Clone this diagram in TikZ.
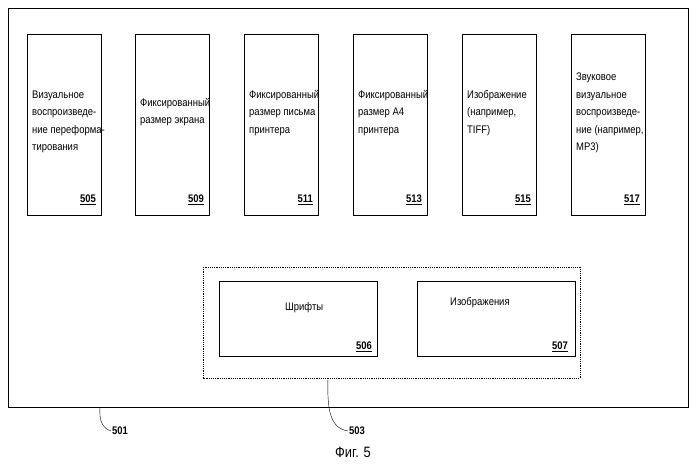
\documentclass[tikz,border=0pt]{standalone}
\usepackage{fontspec}
\setmainfont{Liberation Sans}[FakeStretch=0.86]
\begin{document}
\begin{tikzpicture}[x=1pt,y=-1pt,
  box/.style={draw,line width=0.9pt},
  txt/.style={anchor=west,align=left,font=\fontsize{11}{17.5}\selectfont,inner sep=0pt},
  num/.style={anchor=south east,font=\fontsize{11}{12}\selectfont\bfseries,inner sep=0pt},
  ref/.style={font=\fontsize{11}{12}\selectfont\bfseries,inner sep=1pt}]
\useasboundingbox (0,0) rectangle (699,464);
\draw[box] (8,8) rectangle (688,407);
\foreach \x/\n/\t/\y in {27/505/{Визуальное\\воспроизведе-\\ние переформа-\\тирования}/122,
  135/509/{Фиксированный\\размер экрана}/112,
  244/511/{Фиксированный\\размер письма\\принтера}/113,
  353/513/{Фиксированный\\размер A4\\принтера}/113,
  462/515/{Изображение\\(например,\\TIFF)}/113,
  571/517/{Звуковое\\визуальное\\воспроизведе-\\ние (например,\\MP3)}/113}{
  \draw[box] (\x,34) rectangle ++(74,181);
  \node[txt] (t\n) at (\x+5,\y) {\t};
  \node[num] (n\n) at (\x+69,205) {\underline{\n}};
}
\draw[dash pattern=on 1.2pt off 1pt,line width=0.7pt] (203,267) rectangle (580,378);
\coordinate (db) at (328,378);
\draw[box] (219,281) rectangle (377,356);
\draw[box] (417,281) rectangle (575,356);
\node[txt] (ts) at (285,308) {Шрифты};
\node[txt] (ti) at (450,303) {Изображения};
\node[num] (n506) at (372,352) {\underline{506}};
\node[num] (n507) at (568,352) {\underline{507}};
\node[ref] (l501) at (120,431) {501};
\node[ref] (l503) at (357,431) {503};
\coordinate (ob) at (100,407);
\draw (ob) .. controls (99,420) and (102,428) .. (l501.west);
\draw (db) .. controls (327,410) and (330,428) .. (l503.west);
\node[font=\fontsize{15}{17}\selectfont] (cap) at (353,452) {Фиг. 5};
\end{tikzpicture}
\end{document}
